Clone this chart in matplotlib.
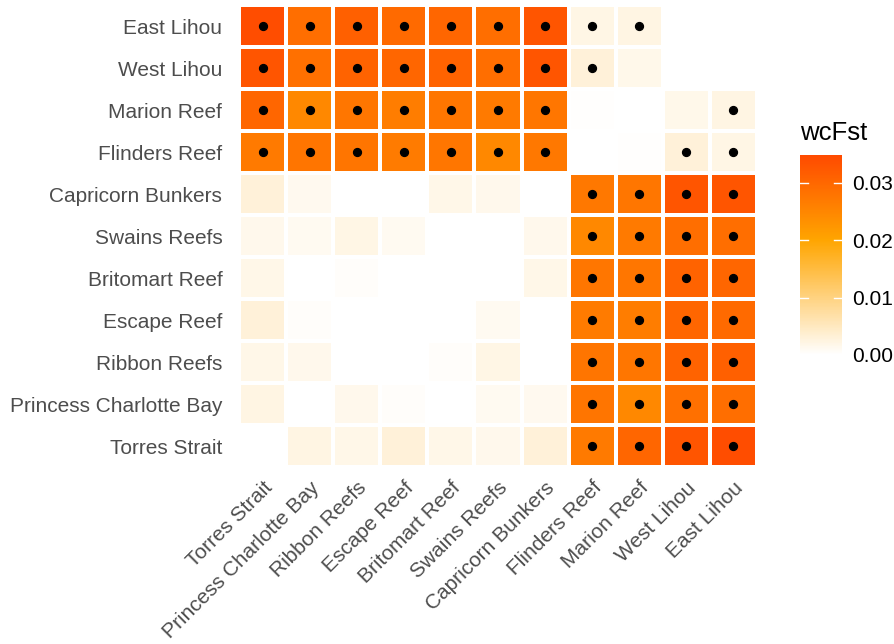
import numpy as np
import matplotlib
matplotlib.use('Agg')
import matplotlib.pyplot as plt
from matplotlib.colors import LinearSegmentedColormap
from matplotlib.transforms import blended_transform_factory

plt.rcParams['font.family'] = ['Liberation Sans', 'DejaVu Sans']

# популяции (снизу вверх по оси y, слева направо по оси x)
pops = ['Torres Strait', 'Princess Charlotte Bay', 'Ribbon Reefs', 'Escape Reef',
        'Britomart Reef', 'Swains Reefs', 'Capricorn Bunkers', 'Flinders Reef',
        'Marion Reef', 'West Lihou', 'East Lihou']

# нижний треугольник матрицы wcFst (строка i, столбцы 0..i-1)
lower = [
    [],
    [0.0023],
    [0.0018, 0.0015],
    [0.0031, 0.0005, 0.0],
    [0.0018, 0.0, 0.0005, 0.0],
    [0.0016, 0.0012, 0.0021, 0.0012, 0.0],
    [0.0031, 0.0013, 0.0, 0.0, 0.0018, 0.0016],
    [0.0270, 0.0278, 0.0278, 0.0268, 0.0275, 0.0247, 0.0273],
    [0.0302, 0.0247, 0.0275, 0.0265, 0.0275, 0.0270, 0.0275, 0.0002],
    [0.0330, 0.0286, 0.0307, 0.0302, 0.0307, 0.0289, 0.0330, 0.0031, 0.0017],
    [0.0343, 0.0289, 0.0312, 0.0296, 0.0302, 0.0289, 0.0330, 0.0021, 0.0023, 0.0],
]

# значимые пары (нижний треугольник): 1 - точка
signif = [
    [],
    [0],
    [0, 0],
    [0, 0, 0],
    [0, 0, 0, 0],
    [0, 0, 0, 0, 0],
    [0, 0, 0, 0, 0, 0],
    [1, 1, 1, 1, 1, 1, 1],
    [1, 1, 1, 1, 1, 1, 1, 0],
    [1, 1, 1, 1, 1, 1, 1, 1, 0],
    [1, 1, 1, 1, 1, 1, 1, 1, 1, 0],
]

vmax = 0.0348
ticks = [0.00, 0.01, 0.02, 0.03]

# собираем симметричную матрицу
n = len(pops)
fst = np.full((n, n), np.nan)
sig = np.zeros((n, n), dtype=bool)
for i in range(n):
    for j, v in enumerate(lower[i]):
        fst[i, j] = v
        fst[j, i] = v
        sig[i, j] = sig[j, i] = bool(signif[i][j])

cmap = LinearSegmentedColormap.from_list(
    'fst', [(0, 'white'), (0.02 / vmax, '#FFA500'), (1, '#FF4A00')])

fig = plt.figure(figsize=(8.94, 6.44), dpi=100)
ax = fig.add_axes([239 / 894, 1 - 467 / 644, 518 / 894, 462 / 644])

edges = np.arange(n + 1) - 0.5
mesh = ax.pcolormesh(edges, edges, np.ma.masked_invalid(fst), cmap=cmap,
                     vmin=0, vmax=vmax, edgecolors='white', linewidth=1.5)

# точки для значимых пар
yy, xx = np.nonzero(sig)
ax.scatter(xx, yy, s=32, color='black', zorder=3)

ax.set_xlim(-0.5, n - 0.5)
ax.set_ylim(-0.5, n - 0.5)
ax.set_xticks(range(n))
ax.set_yticks(range(n))
ax.set_xticklabels(pops, rotation=45, ha='right', va='top', rotation_mode='anchor')
ax.set_yticklabels(pops)
ax.tick_params(length=0, labelsize=15, labelcolor='#4D4D4D')
ax.tick_params(axis='y', pad=12)
ax.tick_params(axis='x', pad=8)
for s in ax.spines.values():
    s.set_visible(False)

# шкала цвета
cax = fig.add_axes([800 / 894, 1 - 355 / 644, 42 / 894, 200 / 644])
cb = fig.colorbar(mesh, cax=cax, ticks=ticks, format='%.2f')
cb.outline.set_visible(False)
cax.tick_params(length=0, labelsize=15, pad=7.5)
tr = blended_transform_factory(cax.transAxes, cax.transData)
for t in ticks[1:]:
    cax.plot([0, 0.2], [t, t], color='white', lw=1, transform=tr)
    cax.plot([0.8, 1], [t, t], color='white', lw=1, transform=tr)
fig.text(800 / 894, 1 - 133 / 644, 'wcFst', fontsize=18.5, va='center', ha='left')

fig.savefig('out.png', dpi=100)
